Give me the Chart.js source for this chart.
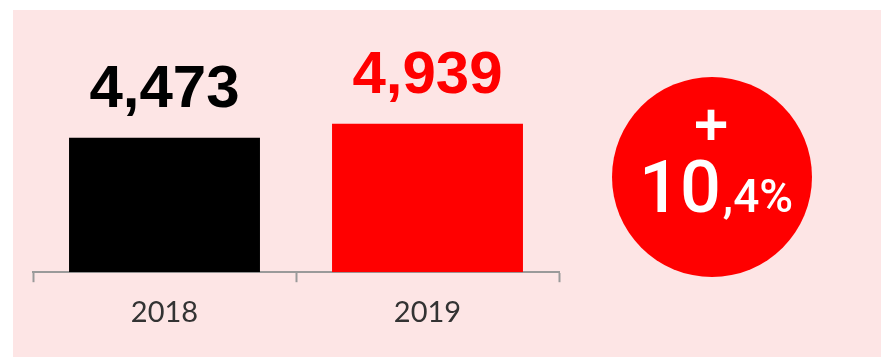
<!DOCTYPE html>
<html>
<head>
<meta charset="utf-8">
<script src="https://cdn.jsdelivr.net/npm/chart.js@4"></script>
<style>
  html, body { margin: 0; padding: 0; background: #fff; }
  #panel { position: absolute; left: 13px; top: 10px; width: 868px; height: 347px; background: #fde5e5; }
  #wrap { position: absolute; left: 0; top: 0; width: 881px; height: 357px; }
</style>
</head>
<body>
<div id="panel"></div>
<div id="wrap"><canvas id="sales-chart" width="881" height="357"></canvas></div>
<script>
const years = ['2018', '2019'];
const salesValues = [4473, 4939];
const barColors = ['#000000', '#ff0000'];
const growthLabel = '10,4%';

const salesChart = document.getElementById('sales-chart');

function formatThousands(value) {
  return value.toLocaleString('en-US');
}

// draws the number above each bar
const valueLabels = {
  id: 'valueLabels',
  afterDatasetsDraw(chart) {
    const ctx = chart.ctx;
    const meta = chart.getDatasetMeta(0);
    ctx.save();
    ctx.font = 'bold 60px "Liberation Sans", Arial, sans-serif';
    ctx.textAlign = 'center';
    ctx.textBaseline = 'alphabetic';
    meta.data.forEach((bar, i) => {
      ctx.fillStyle = barColors[i];
      ctx.fillText(formatThousands(salesValues[i]), bar.x, bar.y - 31);
    });
    ctx.restore();
  },
};

// red growth badge on the right
const growthBadge = {
  id: 'growthBadge',
  afterDraw(chart) {
    const ctx = chart.ctx;
    ctx.save();
    ctx.fillStyle = '#ff0000';
    ctx.beginPath();
    ctx.arc(712, 177, 100, 0, Math.PI * 2);
    ctx.fill();

    ctx.fillStyle = '#ffffff';
    ctx.textBaseline = 'alphabetic';
    ctx.textAlign = 'center';
    ctx.font = 'bold 60px "Liberation Sans", Arial, sans-serif';
    ctx.fillText('+', 711, 145);

    const parts = growthLabel.split(',');
    ctx.textAlign = 'left';
    ctx.font = '500 72px Roboto, sans-serif';
    ctx.fillText(parts[0], 639, 212);
    const bigWidth = ctx.measureText(parts[0]).width;
    ctx.font = '500 46px Roboto, sans-serif';
    ctx.fillText(',' + parts[1], 639 + bigWidth + 2, 212);
    ctx.restore();
  },
};

new Chart(salesChart, {
  type: 'bar',
  data: {
    labels: years,
    datasets: [
      {
        data: salesValues,
        backgroundColor: barColors,
        categoryPercentage: 1,
        barPercentage: 0.726,
      },
    ],
  },
  options: {
    responsive: false,
    animation: false,
    devicePixelRatio: 1,
    layout: {
      padding: { left: 33, right: 322, top: 9, bottom: 14 },
    },
    plugins: {
      legend: { display: false },
      tooltip: { enabled: false },
    },
    scales: {
      y: {
        display: false,
        min: 0,
        max: 8750,
      },
      x: {
        grid: {
          display: true,
          drawOnChartArea: false,
          drawTicks: true,
          tickLength: 10,
          tickWidth: 2,
          tickColor: '#9a9a9a',
        },
        border: { display: true, color: '#9a9a9a', width: 2 },
        ticks: {
          color: '#333333',
          padding: 13,
          font: { family: 'Lato, "Open Sans", sans-serif', size: 29 },
        },
      },
    },
  },
  plugins: [valueLabels, growthBadge],
});
</script>
</body>
</html>
